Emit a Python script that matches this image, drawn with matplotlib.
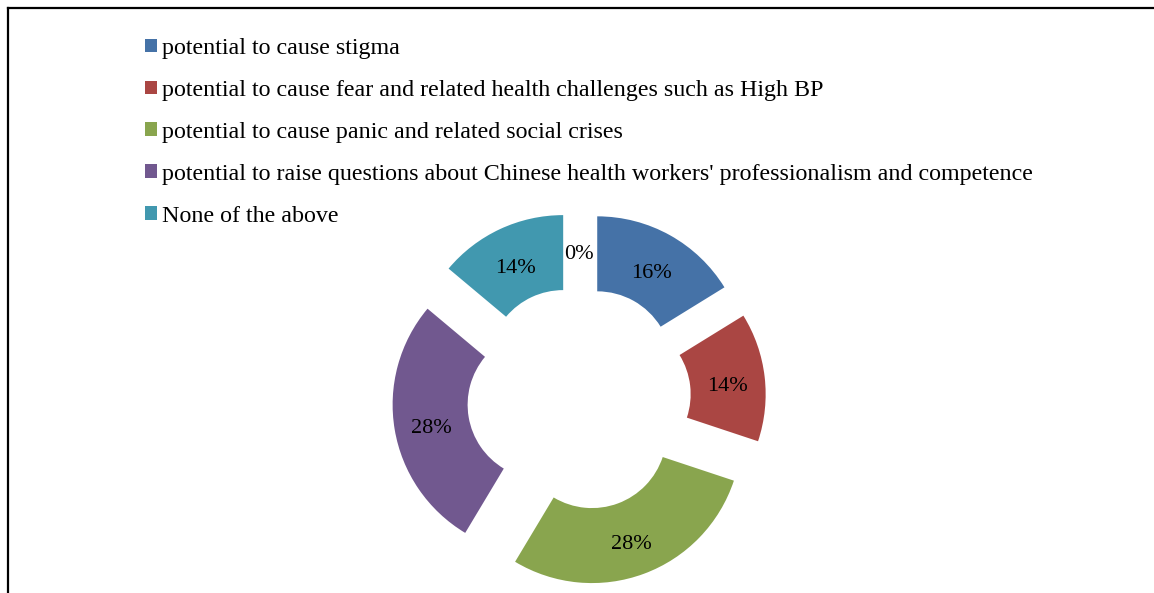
import matplotlib
matplotlib.use("Agg")
import matplotlib.pyplot as plt
from matplotlib.patches import Patch
from matplotlib.lines import Line2D

# survey shares (%); the last, unnamed category is the empty 0% slice
categories = [
    "potential to cause stigma",
    "potential to cause fear and related health challenges such as High BP",
    "potential to cause panic and related social crises",
    "potential to raise questions about Chinese health workers' professionalism and competence",
    "None of the above",
    "",
]
shares = [16.2, 13.9, 28.5, 27.5, 13.9, 0]
pct_labels = ["16%", "14%", "28%", "28%", "14%", "0%"]
colors = ["#4572A7", "#AA4643", "#89A54E", "#71588F", "#4198AF", "#4F81BD"]

plt.rcParams["font.family"] = ["Liberation Serif", "DejaVu Serif"]

W, H = 1154, 593
fig = plt.figure(figsize=(W / 100, H / 100), dpi=100)
ax = fig.add_axes([0, 0, 1, 1])

radius = 149.5
lab_iter = iter(pct_labels)
# pie() treats explode as an absolute offset in data units (pixels here)
wedges, texts, autotexts = ax.pie(
    shares,
    colors=colors,
    startangle=90,
    counterclock=False,
    explode=[37.4] * len(shares),
    radius=radius,
    center=(579, H - 398.5),
    autopct=lambda p: next(lab_iter),
    pctdistance=0.75,
    wedgeprops={"width": 75, "linewidth": 0},
    textprops={"fontsize": 16, "color": "black"},
)
# Excel sits the data labels a touch lower than matplotlib's bbox centring
for t in autotexts:
    x, y = t.get_position()
    t.set_va("center_baseline")
    t.set_position((x, y - 3))

ax.set_xlim(0, W)
ax.set_ylim(0, H)
ax.set_aspect("equal")
ax.axis("off")

# legend for the named categories only
handles = [Patch(facecolor=c, edgecolor="none") for c in colors[:5]]
fig.legend(
    handles,
    categories[:5],
    loc="upper left",
    bbox_to_anchor=(145 / W, 1 - 38 / H),
    frameon=False,
    fontsize=17.3,
    handlelength=0.5,
    handleheight=0.5,
    handletextpad=0.2,
    labelspacing=0.87,
    borderpad=0,
    borderaxespad=0,
)

# outer chart frame (left and top edges visible)
fig.add_artist(Line2D([7.5 / W, 7.5 / W], [0, 1 - 8 / H], transform=fig.transFigure,
                      color="black", linewidth=1.6))
fig.add_artist(Line2D([7.5 / W, 1], [1 - 8 / H, 1 - 8 / H], transform=fig.transFigure,
                      color="black", linewidth=1.6))

fig.savefig("out.png", dpi=100)
